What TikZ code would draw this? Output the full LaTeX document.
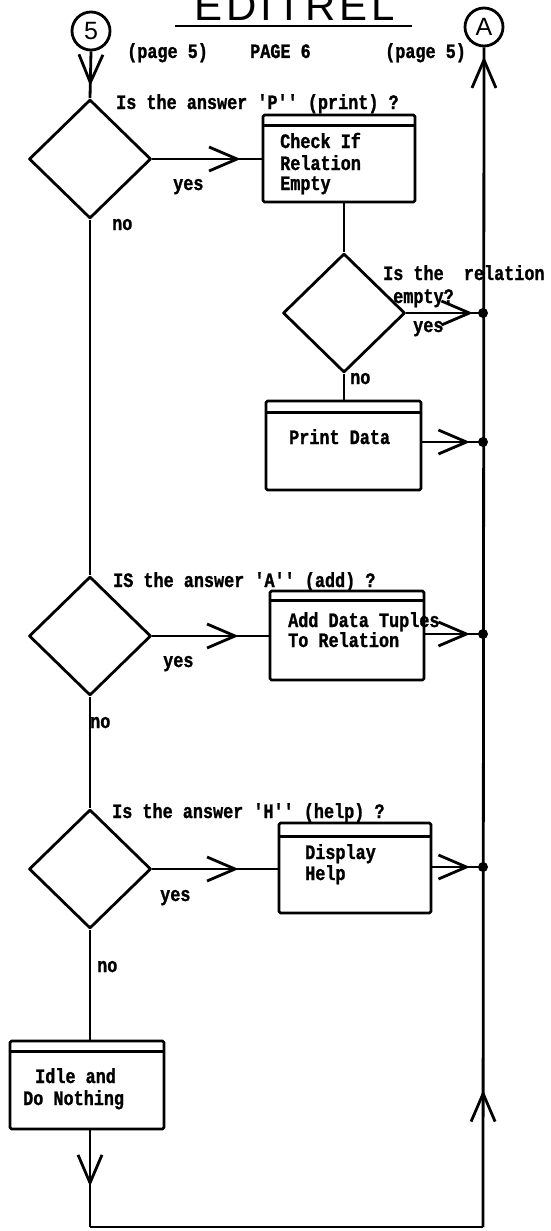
\documentclass[tikz,border=0pt]{standalone}
\usepackage{fontspec}
\newfontfamily\twfont[FakeStretch=0.82,FakeBold=1.2,Ligatures=TeXOff]{Liberation Mono}
\newfontfamily\ttlfont[LetterSpace=9]{Liberation Sans}
\newfontfamily\crcfont{Liberation Sans}
\usetikzlibrary{shapes.geometric,arrows.meta,decorations.markings,calc}
\tikzset{
  ln/.style={line width=2.8pt, line join=round},
  dia/.style={diamond, draw, ln, minimum width=122pt, minimum height=119pt, inner sep=0pt},
  proc/.style={draw, ln, rounded corners=1.5pt, inner sep=0pt},
  txt/.style={font=\twfont\bfseries\fontsize{20.5}{21}\selectfont, anchor=base west, inner sep=0pt},
  conn/.style={circle, draw, ln, minimum size=38pt, inner sep=0pt, font=\crcfont\fontsize{25}{25}\selectfont},
  jdot/.style={circle, fill, inner sep=0pt, minimum size=10pt},
  vee/.style={postaction={decorate}, decoration={markings, mark=at position #1 with {\arrow{Straight Barb[length=28pt,width=24pt]}}}},
  veeii/.style 2 args={postaction={decorate}, decoration={markings,
     mark=at position #1 with {\arrow{Straight Barb[length=28pt,width=24pt]}},
     mark=at position #2 with {\arrow{Straight Barb[length=28pt,width=24pt]}}}},
}
\begin{document}
\begin{tikzpicture}[x=1pt,y=-1pt]
\useasboundingbox (0,0) rectangle (550,1231);
\clip (0,0) rectangle (550,1231);
% title
\node[font=\ttlfont\fontsize{42}{42}\selectfont, anchor=base, inner sep=0pt] (title) at (295,21) {EDITREL};
\draw[line width=2.2pt] (175,26) -- (412,26);
% connectors circles
\node[conn] (c5) at (91,31) {5};
\node[conn] (cA) at (484,27) {A};
\node[txt] (pg5l) at (127,58) {(page 5)};
\node[txt] (pg6) at (250,58) {PAGE 6};
\node[txt] (pg5r) at (385,58) {(page 5)};
% decision 1
\node[dia] (d1) at (90,159) {};
\node[txt] (q1) at (116,109) {Is the answer 'P'' (print) ?};
\node[proc, minimum width=152pt, minimum height=87pt] (b1) at (339,158.5) {};
\draw[ln] ([yshift=-12pt]b1.north west) -- ([yshift=-12pt]b1.north east);
\node[txt] (b1a) at (280,148) {Check If};
\node[txt] (b1b) at (280,170) {Relation};
\node[txt] (b1c) at (280,190) {Empty};
\node[txt] (yes1) at (173,190) {yes};
\node[txt] (no1) at (112,230) {no};
% decision 2
\node[dia] (d2) at (344,313) {};
\node[txt] (q2a) at (383,280) {Is the~~relation};
\node[txt] (q2b) at (393,303) {empty?};
\node[txt] (yes2) at (413,332) {yes};
\node[txt] (no2) at (350,384) {no};
\node[proc, minimum width=155pt, minimum height=89pt] (pd) at (343.5,445.5) {};
\draw[ln] ([yshift=-13pt]pd.north west) -- ([yshift=-13pt]pd.north east);
\node[txt] (pdt) at (289,444) {Print Data};
% decision 3
\node[dia] (d3) at (90,636) {};
\node[txt] (q3) at (113,587) {IS the answer 'A'' (add) ?};
\node[proc, minimum width=154pt, minimum height=89pt] (b3) at (347,635.5) {};
\draw[ln] ([yshift=-11pt]b3.north west) -- ([yshift=-11pt]b3.north east);
\node[txt] (b3a) at (288,627) {Add Data Tuples};
\node[txt] (b3b) at (288,647) {To Relation};
\node[txt] (yes3) at (163,667) {yes};
\node[txt] (no3) at (90,728) {no};
% decision 4
\node[dia] (d4) at (90,869) {};
\node[txt] (q4) at (112,818) {Is the answer 'H'' (help) ?};
\node[proc, minimum width=152pt, minimum height=90pt] (b4) at (355,868) {};
\draw[ln] ([yshift=-15pt]b4.north west) -- ([yshift=-15pt]b4.north east);
\node[txt] (b4a) at (305,859) {Display};
\node[txt] (b4b) at (305,880) {Help};
\node[txt] (yes4) at (160,901) {yes};
\node[txt] (no4) at (97,972) {no};
% idle
\node[proc, minimum width=154pt, minimum height=88pt] (idle) at (87,1085) {};
\draw[ln] ([yshift=-12pt]idle.north west) -- ([yshift=-12pt]idle.north east);
\node[txt] (ida) at (35,1083) {Idle and};
\node[txt] (idb) at (23,1105) {Do Nothing};
% junctions
\node[jdot] (j1) at (483,313) {};
\node[jdot] (j2) at (483,442) {};
\node[jdot] (j3) at (483,634) {};
\node[jdot] (j4) at (483,867) {};
\coordinate (bl) at (90,1227);
\coordinate (br) at (483,1227);
% connectors
\draw[ln, vee=-12pt] (c5.south) -- (d1.north);
\draw[ln, vee=-21pt] (d1.east) -- (b1.west |- d1.east);
\draw[ln] (d2.north |- b1.south) -- (d2.north);
\draw[ln, vee=-10pt] (d2.east) -- (j1.center);
\draw[ln] (d2.south) -- (d2.south |- pd.north);
\draw[ln, vee=-13pt] (pd.east |- j2) -- (j2.center);
\draw[ln] (d1.south) -- (d3.north);
\draw[ln, vee=-30pt] (d3.east) -- (b3.west |- d3.east);
\draw[ln, vee=-13pt] (b3.east |- j3) -- (j3.center);
\draw[ln] (d3.south) -- (d4.north);
\draw[ln, vee=-39pt] (d4.east) -- (b4.west |- d4.east);
\draw[ln, vee=-13pt] (b4.east |- j4) -- (j4.center);
\draw[ln] (d4.south) -- (d4.south |- idle.north);
\draw[ln, vee=56pt] (bl |- idle.south) -- (bl);
\draw[ln] (bl) -- (br);
\draw[ln, veeii={137pt}{-9pt}] (br) -- (cA.south);
\end{tikzpicture}
\end{document}
